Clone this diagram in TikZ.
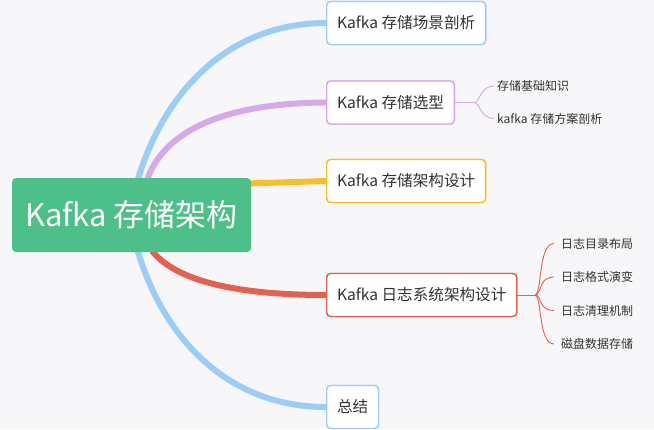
\documentclass[tikz,border=0pt]{standalone}
\usepackage{fontspec}
\setmainfont{Noto Sans CJK SC}
\definecolor{bg}{HTML}{F7F7F9}
\definecolor{cgreen}{HTML}{4DBF88}
\definecolor{cblue}{HTML}{9CCDF8}
\definecolor{cpurple}{HTML}{D6A8EC}
\definecolor{cyellow}{HTML}{F8BF2C}
\definecolor{cred}{HTML}{E5604F}
\definecolor{txt}{HTML}{333333}
\begin{document}
\begin{tikzpicture}[x=1pt,y=-1pt,
  topic/.style={draw=#1,line width=1.4pt,fill=white,rounded corners=4pt,anchor=west,
    minimum height=43pt,inner xsep=10.3pt,inner ysep=0pt,text=txt,font=\fontsize{15.6}{15.6}\selectfont},
  sub/.style={anchor=west,inner sep=0pt,text=txt,font=\fontsize{12}{12}\selectfont},
  branch/.style={draw=#1,line width=6pt,line cap=round},
  twig/.style={draw=#1,line width=0.9pt}]
\fill[bg] (0,0) rectangle (654,429);
\useasboundingbox (0,0) rectangle (654,429);
% nodes (names and positions)
\node[topic=cblue] (n1) at (326,23) {Kafka 存储场景剖析};
\node[topic=cpurple] (n2) at (326,102.5) {Kafka 存储选型};
\node[topic=cyellow] (n3) at (326,181) {Kafka 存储架构设计};
\node[topic=cred] (n4) at (326,295) {Kafka 日志系统架构设计};
\node[topic=cblue] (n5) at (326,407) {总结};
\node[sub] (s1) at (497,86) {存储基础知识};
\node[sub] (s2) at (497,118.5) {kafka 存储方案剖析};
\node[sub] (t1) at (561,243.5) {日志目录布局};
\node[sub] (t2) at (561,277) {日志格式演变};
\node[sub] (t3) at (561,310.5) {日志清理机制};
\node[sub] (t4) at (561,344) {磁盘数据存储};
\coordinate (j2) at (474,102.5);
\coordinate (j4) at (535,295);
% main branches
\path[branch=cblue] (138,200) -- (138,179) .. controls (165,90) and (230,23) .. (n1.west);
\path[branch=cpurple] (147,200) -- (147,180) .. controls (165,128) and (230,103) .. (n2.west);
\path[branch=cyellow] (230,184) -- (n3.west);
\path[branch=cred] (153,230) -- (153,252) .. controls (178,282) and (240,295) .. (n4.west);
\path[branch=cblue] (138,230) -- (138,252) .. controls (165,341) and (230,407) .. (n5.west);
% twigs
\draw[twig=cpurple] (n2.east) -- (j2);
\foreach \t in {s1,s2}
  \draw[twig=cpurple] (j2) .. controls +(6,0) and +(-14,0) .. ([xshift=-3pt]\t.west);
\draw[twig=cred] (n4.east) -- (j4);
\foreach \t in {t1,t2,t3,t4}
  \draw[twig=cred] (j4) .. controls +(7,0) and +(-16,0) .. ([xshift=-7pt]\t.west);
% root and nodes on top of branches
\node[fill=cgreen,rounded corners=4pt,minimum width=239pt,minimum height=74pt,inner sep=0pt,
  text=white,font=\fontsize{31}{31}\selectfont] (root) at (131.5,215) {Kafka 存储架构};
\node[topic=cblue] at (326,23) {Kafka 存储场景剖析};
\node[topic=cpurple] at (326,102.5) {Kafka 存储选型};
\node[topic=cyellow] at (326,181) {Kafka 存储架构设计};
\node[topic=cred] at (326,295) {Kafka 日志系统架构设计};
\node[topic=cblue] at (326,407) {总结};
\end{tikzpicture}
\end{document}
